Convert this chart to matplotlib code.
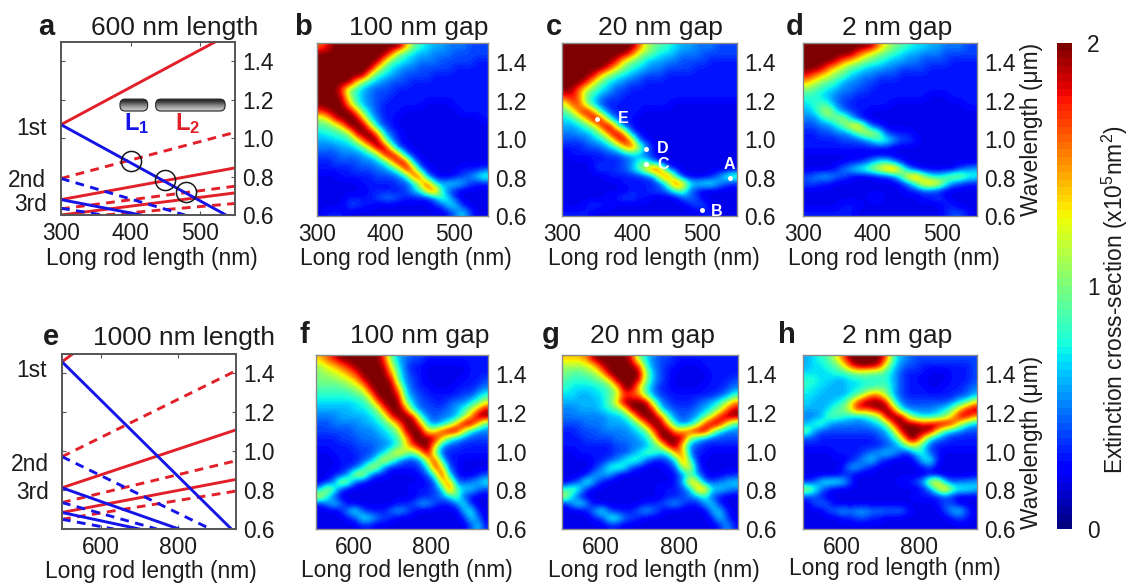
import numpy as np
import matplotlib
matplotlib.use("Agg")
import matplotlib.pyplot as plt
from matplotlib.patches import FancyBboxPatch

plt.rcParams['font.family'] = ['Liberation Sans', 'DejaVu Sans']
plt.rcParams['mathtext.fontset'] = 'custom'
plt.rcParams['mathtext.rm'] = 'Liberation Sans'
plt.rcParams['mathtext.bf'] = 'Liberation Sans:bold'

# extinction maps, tenths of 1e5 nm^2, rows run from 1.5 um down to 0.6 um
map_b = [
    [16,18,20,20,20,20,20,20,20,20,20,20,15,10,8,7,6,6,5,5,5,4,4,4],
    [20,20,20,20,20,20,20,20,20,20,16,10,8,7,6,6,5,5,5,4,4,4,4,4],
    [20,20,20,20,20,20,20,20,20,14,9,8,7,6,5,5,5,4,4,4,4,4,3,3],
    [20,20,20,20,20,20,20,20,13,9,7,6,5,5,4,4,4,4,4,3,3,3,3,3],
    [20,20,20,20,20,20,20,12,8,7,6,5,4,4,4,4,3,3,3,3,3,3,3,3],
    [20,20,20,20,20,14,9,7,6,5,4,4,4,3,3,3,3,3,3,3,3,3,3,3],
    [20,20,20,17,10,8,6,5,4,4,4,3,3,3,3,3,3,3,3,3,3,3,3,3],
    [20,20,20,19,12,8,6,5,4,4,3,3,3,3,3,3,3,3,3,3,3,3,3,3],
    [20,20,20,20,15,9,6,5,4,3,3,3,3,3,3,2,2,2,2,3,3,3,3,3],
    [17,19,20,20,20,16,9,6,4,3,3,3,2,2,2,2,2,2,2,2,3,3,3,3],
    [11,13,18,20,20,20,15,7,5,3,3,2,2,2,2,2,2,2,2,2,2,2,2,3],
    [9,9,11,14,20,20,20,14,6,4,3,2,2,2,2,2,2,2,2,2,2,2,2,2],
    [7,8,8,9,11,19,20,20,15,6,4,3,2,2,2,2,2,2,2,2,2,2,2,2],
    [6,6,7,7,8,11,17,20,20,11,5,3,2,2,2,2,2,2,2,2,2,2,2,2],
    [5,5,5,6,6,7,9,14,20,20,11,4,3,2,2,2,2,2,2,2,2,2,2,2],
    [4,4,4,5,5,5,6,7,10,18,20,15,5,3,2,2,2,2,2,2,2,2,2,2],
    [3,3,4,4,4,4,5,5,6,8,14,20,18,6,3,2,2,2,2,2,2,2,2,2],
    [3,3,3,3,3,4,4,4,5,5,7,10,19,16,5,3,2,2,2,2,3,3,3,4],
    [2,2,2,3,3,3,3,3,4,4,4,5,7,17,17,5,3,2,2,3,4,5,7,9],
    [2,2,2,2,2,2,3,3,3,3,3,4,4,6,13,18,8,6,7,7,6,4,3,3],
    [2,2,2,2,2,2,2,3,3,3,3,3,4,6,8,14,18,8,4,3,2,2,2,2],
    [2,2,2,2,3,3,3,3,4,5,5,4,3,3,3,3,5,9,7,3,2,2,2,2],
    [2,2,2,2,4,4,3,3,2,2,2,2,2,2,2,2,3,4,7,7,3,2,2,2],
    [2,3,3,3,2,2,2,2,2,2,2,2,2,2,2,2,2,2,3,5,7,4,2,2],
]
map_c = [
    [20,20,20,20,20,20,20,20,20,20,17,12,10,9,8,7,6,6,5,5,5,4,4,4],
    [20,20,20,20,20,20,20,20,20,17,12,10,9,7,7,6,5,5,5,4,4,4,4,4],
    [20,20,20,20,20,20,20,18,13,10,9,7,6,6,5,5,4,4,4,4,3,3,3,3],
    [20,20,20,20,20,20,17,13,10,8,7,6,5,5,4,4,4,4,3,3,3,3,3,3],
    [20,20,20,20,18,13,10,8,7,6,5,4,4,4,3,3,3,3,3,3,3,3,3,3],
    [20,20,20,17,12,9,7,6,5,4,4,3,3,3,3,3,3,3,3,3,3,3,3,3],
    [20,19,15,11,9,7,6,4,4,3,3,3,3,3,3,3,3,3,3,3,3,3,3,3],
    [17,18,15,9,7,5,4,4,3,3,3,3,3,3,3,3,3,3,3,3,3,3,3,3],
    [12,17,16,10,6,4,3,3,3,3,3,3,3,3,3,2,2,2,2,2,2,2,2,2],
    [9,12,17,19,14,7,4,3,3,3,3,2,2,2,2,2,2,2,2,2,2,2,2,2],
    [7,8,11,15,20,17,8,4,3,3,2,2,2,2,2,2,2,2,2,2,2,2,2,2],
    [6,6,7,9,12,18,20,11,4,3,2,2,2,2,2,2,2,2,2,2,2,2,2,2],
    [5,5,6,6,8,11,17,20,15,5,3,2,2,2,2,2,2,2,2,2,2,2,2,2],
    [4,4,4,5,6,7,10,16,20,15,5,3,2,2,2,2,2,2,2,2,2,2,2,2],
    [3,3,3,4,4,5,6,8,13,17,12,6,3,2,2,2,2,2,2,2,2,2,2,2],
    [2,3,3,3,3,3,4,4,5,6,6,4,3,2,2,2,2,2,2,2,2,2,2,2],
    [2,2,2,2,3,3,3,3,4,5,8,9,5,3,2,2,2,2,2,2,2,2,2,2],
    [2,2,2,2,3,4,3,4,4,6,9,13,19,16,5,3,2,2,2,2,2,2,2,2],
    [2,2,2,2,2,2,3,3,3,3,3,4,5,14,18,9,3,2,2,2,3,5,8,10],
    [2,2,2,2,2,2,2,2,3,3,3,3,3,4,9,18,15,8,7,8,8,6,4,3],
    [2,2,2,2,2,2,2,2,2,3,3,3,4,4,5,8,10,5,3,2,2,2,2,2],
    [2,2,2,2,2,2,3,3,4,4,3,3,2,2,2,2,4,5,4,2,2,2,2,2],
    [2,2,2,3,4,3,3,2,2,2,2,2,2,2,2,2,2,3,4,4,2,2,2,2],
    [3,3,3,3,2,2,2,2,2,2,2,2,2,2,2,2,2,2,2,3,3,2,2,2],
]
map_d = [
    [20,20,20,20,20,20,20,20,20,19,15,12,10,9,8,7,7,6,6,5,5,5,4,4],
    [20,20,20,20,20,20,20,17,14,12,10,9,8,7,6,6,5,5,5,4,4,4,4,4],
    [20,20,20,20,19,16,14,12,10,9,8,7,6,6,5,5,4,4,4,4,3,3,3,3],
    [20,20,19,16,13,11,9,8,7,6,6,5,5,4,4,4,4,3,3,3,3,3,3,3],
    [18,16,14,12,10,9,7,6,5,5,4,4,4,3,3,3,3,3,3,3,3,3,3,3],
    [14,12,10,9,8,6,5,5,4,4,3,3,3,3,3,3,3,3,3,3,3,3,3,3],
    [10,9,8,7,6,5,5,4,4,3,3,3,3,3,3,3,3,3,3,3,3,3,3,3],
    [8,8,7,6,5,4,4,3,3,3,3,3,3,3,3,3,3,2,2,2,3,3,3,3],
    [7,8,9,8,5,4,3,3,3,3,3,3,2,2,2,2,2,2,2,2,2,2,3,3],
    [6,7,10,12,8,5,4,3,3,2,2,2,2,2,2,2,2,2,2,2,2,2,2,2],
    [5,5,7,9,10,12,7,4,2,2,2,2,2,2,2,2,2,2,2,2,2,2,2,2],
    [4,4,5,5,7,9,13,15,9,4,3,2,2,2,2,2,2,2,2,2,2,2,2,2],
    [3,3,4,4,5,5,6,9,12,12,9,4,3,3,3,2,2,2,2,2,2,2,2,2],
    [3,3,3,3,3,4,4,4,5,7,9,8,6,4,4,3,2,2,2,2,2,2,2,2],
    [3,3,3,3,3,3,3,3,3,3,3,3,2,2,2,2,2,2,2,2,2,2,2,2],
    [2,2,2,2,2,2,2,2,2,2,2,2,2,2,2,2,2,2,2,2,2,2,2,2],
    [2,2,2,2,2,2,3,3,4,6,8,8,5,3,2,2,2,2,2,2,2,2,2,2],
    [2,2,2,2,3,5,6,8,9,11,13,16,17,11,5,3,2,2,2,2,2,4,5,6],
    [4,5,6,6,5,4,3,2,2,2,3,3,5,9,15,16,11,8,7,9,11,11,9,8],
    [4,4,3,3,2,2,2,2,2,2,2,2,2,3,5,9,14,15,14,9,5,4,3,3],
    [2,2,2,2,2,2,2,2,2,2,2,2,2,2,3,3,4,4,3,2,2,2,2,2],
    [2,2,2,2,2,2,2,2,2,3,3,2,2,2,2,2,3,3,4,3,2,2,2,2],
    [2,2,2,2,2,3,3,3,2,2,2,2,2,2,2,2,2,2,2,3,3,2,2,2],
    [3,3,3,3,3,3,3,2,2,2,2,2,2,2,2,2,2,2,2,3,4,4,3,2],
]
map_f = [
    [14,16,18,20,20,20,20,20,20,17,9,6,5,4,4,3,3,3,3,3,3,3,3,3],
    [11,13,14,16,18,20,20,20,20,19,12,7,4,3,3,2,2,2,2,2,2,3,3,3],
    [10,11,12,13,15,17,20,20,20,20,15,8,5,3,3,2,2,2,2,2,2,3,3,3],
    [10,10,10,11,12,14,18,20,20,20,19,9,5,4,3,2,2,2,2,2,3,3,3,4],
    [9,9,9,9,10,11,13,19,20,20,20,14,6,4,3,3,2,2,2,3,3,3,4,5],
    [8,8,8,8,8,9,10,14,20,20,20,18,7,5,4,3,3,3,3,3,4,4,6,8],
    [7,7,7,7,7,7,8,10,16,20,20,20,10,6,4,4,3,3,4,5,5,7,9,12],
    [6,6,6,6,6,7,7,8,10,17,20,20,17,7,5,4,4,4,5,6,8,11,15,19],
    [5,5,5,6,6,6,6,7,8,11,18,20,20,19,8,5,4,5,5,6,10,15,20,20],
    [4,4,5,5,5,5,6,6,7,8,11,16,20,20,16,7,5,6,9,14,20,20,14,8],
    [4,4,4,4,4,5,5,5,6,7,8,11,19,20,20,13,13,18,20,20,12,7,5,5],
    [3,3,3,4,4,4,5,5,5,6,7,9,14,20,20,20,19,14,9,6,5,4,4,4],
    [3,3,3,3,3,4,4,4,5,5,6,8,13,17,20,20,14,6,4,4,3,3,3,3],
    [2,2,3,3,3,3,4,4,5,7,11,14,11,9,14,20,10,4,3,3,3,3,3,3],
    [2,2,2,3,3,3,4,5,9,13,10,6,4,4,5,13,18,7,3,3,2,2,2,2],
    [2,2,2,3,3,4,7,12,11,5,3,3,3,3,4,7,18,14,4,3,2,2,2,2],
    [2,2,3,3,6,12,12,6,3,3,2,2,2,2,3,4,9,19,7,3,2,2,3,4],
    [2,3,5,12,10,4,3,2,2,2,2,2,2,2,2,3,4,14,15,5,4,5,6,8],
    [6,12,9,4,2,2,2,2,2,2,2,2,2,3,3,3,4,6,18,9,7,7,5,4],
    [13,8,4,2,2,2,2,2,2,2,2,2,2,2,3,3,4,5,7,10,4,3,2,2],
    [3,5,7,5,2,2,2,2,2,2,2,3,3,4,6,6,4,3,3,5,8,3,2,2],
    [2,2,2,3,6,8,4,3,3,3,5,6,5,3,2,2,2,2,2,2,6,8,3,2],
    [2,2,2,2,3,4,8,7,5,4,3,2,2,2,2,2,2,2,2,2,3,7,5,2],
    [2,2,2,2,2,2,3,3,2,2,2,2,2,2,2,2,2,2,2,2,2,4,7,3],
]
map_g = [
    [14,14,14,16,20,20,20,20,20,18,10,7,5,4,4,3,3,3,3,3,3,3,3,3],
    [11,11,11,12,14,19,20,20,20,20,17,8,5,4,3,3,2,2,2,3,3,3,3,3],
    [10,9,9,10,11,14,20,20,20,20,20,11,6,4,3,2,2,2,2,2,3,3,3,3],
    [9,8,8,8,9,10,13,20,20,20,19,10,6,4,3,2,2,2,2,2,3,3,3,4],
    [8,7,7,7,7,8,9,13,20,20,13,8,5,3,3,2,2,2,2,3,3,3,4,5],
    [7,7,6,6,7,7,9,11,17,16,16,9,5,4,3,3,3,3,3,3,3,4,5,8],
    [6,6,6,6,6,7,9,14,20,20,20,20,10,5,4,3,3,3,4,5,6,8,11,15],
    [5,5,6,6,6,7,8,9,12,20,20,20,18,7,5,4,4,4,5,6,8,11,16,19],
    [5,5,5,5,5,5,6,6,7,11,19,20,20,17,8,5,4,5,6,9,13,18,20,20],
    [4,4,4,5,5,5,6,6,6,7,10,17,20,20,14,7,5,6,10,17,20,19,13,8],
    [3,3,4,4,4,5,5,5,5,6,7,9,17,20,20,15,15,18,20,20,12,7,5,5],
    [3,3,3,4,4,4,4,5,5,5,6,7,11,20,20,20,19,10,7,5,4,4,4,4],
    [3,3,3,3,3,3,3,4,4,5,5,6,8,11,19,20,13,5,4,3,3,3,3,3],
    [2,2,3,3,3,3,3,4,4,5,7,9,9,7,8,16,15,5,3,3,2,2,2,2],
    [2,2,2,2,3,3,4,5,7,9,8,5,3,3,4,7,17,8,3,2,2,2,2,2],
    [2,2,2,2,3,5,8,9,8,4,3,2,2,2,3,4,12,13,4,2,2,2,2,2],
    [2,2,2,3,6,6,6,3,2,2,2,2,2,2,2,3,5,9,5,3,2,2,3,3],
    [2,3,5,9,5,3,2,2,2,2,2,2,2,2,2,3,6,15,12,4,4,5,6,7],
    [8,10,7,3,2,2,2,2,2,2,2,2,2,3,3,3,4,6,15,15,7,7,6,5],
    [12,6,3,2,2,2,2,2,2,2,2,2,2,2,3,3,4,5,6,8,4,3,2,2],
    [3,6,8,5,2,2,2,2,2,2,2,3,3,4,5,6,4,3,3,6,7,3,2,2],
    [2,2,2,3,6,8,4,3,3,3,5,6,5,3,2,2,2,2,2,2,6,7,3,2],
    [2,2,2,2,3,4,8,8,5,4,3,2,2,2,2,2,2,2,2,2,3,7,4,2],
    [2,2,2,2,2,2,3,3,2,2,2,2,2,2,2,2,2,2,2,2,2,3,6,3],
]
map_h = [
    [6,7,8,9,12,16,20,20,20,20,20,16,8,6,5,4,4,4,4,4,4,4,4,4],
    [6,7,7,8,9,12,17,20,20,20,18,11,7,5,4,4,3,3,3,3,3,3,3,4],
    [7,7,7,7,8,8,9,10,10,9,9,8,6,4,3,3,3,2,2,2,3,3,3,4],
    [8,8,7,7,6,6,7,7,8,8,8,8,6,4,3,3,2,2,2,2,3,3,3,4],
    [8,7,7,6,6,6,7,7,8,8,9,9,6,4,3,3,3,2,2,3,3,3,4,5],
    [7,7,6,6,6,6,7,9,12,16,15,10,6,4,3,3,3,3,3,3,3,4,4,6],
    [7,6,6,6,7,8,12,17,20,20,20,18,8,5,4,4,4,4,4,4,5,7,9,13],
    [6,6,6,7,9,10,13,18,17,18,20,20,16,7,5,5,5,5,6,7,10,14,18,20],
    [5,5,6,9,9,8,7,6,7,9,11,20,20,20,12,8,7,7,8,10,14,19,19,15],
    [6,8,9,6,5,5,5,5,5,6,7,10,18,20,20,20,18,19,20,20,18,12,8,6],
    [10,6,4,4,4,4,4,4,4,4,5,6,11,19,20,20,20,20,13,8,6,5,4,4],
    [4,4,3,3,3,3,3,3,3,3,4,5,7,12,20,20,14,7,5,4,3,3,3,3],
    [3,3,3,3,3,3,3,3,3,3,3,4,5,7,11,12,7,4,3,3,3,3,3,3],
    [2,2,2,2,3,3,3,3,4,5,6,7,6,4,3,7,8,4,3,2,2,2,2,2],
    [2,2,2,2,2,2,3,4,6,7,4,3,2,2,2,3,7,8,3,2,2,2,2,2],
    [2,2,2,2,2,3,6,6,4,3,2,2,2,2,2,2,3,4,2,2,2,2,2,2],
    [2,2,2,2,2,3,3,2,2,2,2,2,2,2,2,2,2,2,2,2,2,2,2,2],
    [3,4,7,8,8,7,4,2,2,2,2,2,2,3,3,4,6,13,14,6,4,5,5,6],
    [12,9,5,3,2,2,2,2,2,2,2,2,2,2,2,2,3,5,11,16,10,8,8,7],
    [4,4,3,2,2,2,2,2,2,2,2,2,2,2,2,3,3,3,3,4,3,2,2,2],
    [2,4,5,4,2,2,2,2,2,2,2,2,2,2,2,2,2,2,3,4,4,2,2,2],
    [2,2,2,4,5,6,5,6,6,5,5,5,5,5,3,2,2,2,2,4,6,7,4,2],
    [2,2,2,2,2,3,3,4,4,3,3,2,2,2,2,2,2,2,2,2,3,4,3,2],
    [2,2,2,2,2,2,2,2,2,2,2,2,2,2,2,2,2,2,2,2,2,2,2,2],
]

# mode lines for the two analytic panels: (x ends, wavelength ends)
a_solid_red = [([300, 550], [1.07, 1.556]), ([300, 550], [0.68, 0.845]), ([300, 550], [0.60, 0.715])]
a_dash_red = [([300, 550], [0.79, 1.03]), ([300, 550], [0.632, 0.75]), ([300, 550], [0.58, 0.66])]
a_solid_blue = [([300, 537], [1.07, 0.60]), ([300, 415], [0.68, 0.60])]
a_dash_blue = [([300, 478], [0.79, 0.60]), ([300, 360], [0.635, 0.60])]
a_circle_x = [400, 450, 480]
a_circle_y = [0.88, 0.78, 0.72]

e_solid_red = [([500, 950], [1.46, 2.12]), ([500, 950], [0.812, 1.11]), ([500, 950], [0.685, 0.855])]
e_dash_red = [([500, 950], [0.972, 1.414]), ([500, 950], [0.736, 0.951]), ([500, 950], [0.65, 0.795])]
e_solid_blue = [([500, 938], [1.46, 0.60]), ([500, 802], [0.812, 0.60]), ([500, 700], [0.685, 0.60])]
e_dash_blue = [([500, 884], [0.972, 0.60]), ([500, 745], [0.736, 0.60]), ([500, 634], [0.65, 0.60])]

c_point_x = [540, 500, 420, 420, 350]
c_point_y = [0.80, 0.63, 0.87, 0.95, 1.107]
c_point_names = ['A', 'B', 'C', 'D', 'E']

row1_ticks = [300, 400, 500]
row2_ticks = [600, 800]
wave_ticks = [0.6, 0.8, 1.0, 1.2, 1.4]

W, H = 1130, 584
RED = '#e2202a'
BLUE = '#1414e6'
TXT = '#1c1c1c'
FS = 16.4

fig = plt.figure(figsize=(W / 100, H / 100), dpi=100)


def px_axes(x0, x1, y0, y1):
    return fig.add_axes([x0 / W, 1 - y1 / H, (x1 - x0) / W, (y1 - y0) / H])


def label(x, y, s, **kw):
    kw.setdefault('color', TXT)
    kw.setdefault('fontsize', FS)
    kw.setdefault('ha', 'center')
    fig.text(x / W, 1 - y / H, s, va='baseline', **kw)


def style_axes(ax, xlim, xticks, frame='#8a8a8a', lw=1.0):
    ax.set_xlim(xlim)
    ax.set_ylim(0.6, 1.5)
    ax.set_xticks(xticks)
    ax.set_yticks(wave_ticks)
    ax.set_yticklabels(['%.1f' % t for t in wave_ticks])
    ax.yaxis.tick_right()
    ax.tick_params(labelsize=FS, colors=TXT, length=0, pad=5)
    for s in ax.spines.values():
        s.set_color(frame)
        s.set_linewidth(lw)


def draw_map(ax, grid, xlim, xticks):
    im = ax.imshow(np.array(grid) / 10, extent=[xlim[0], xlim[1], 0.6, 1.5], aspect='auto',
                   cmap=plt.get_cmap('jet', 64), vmin=0, vmax=2,
                   interpolation='bicubic', interpolation_stage='data')
    style_axes(ax, xlim, xticks)
    return im


def draw_modes(ax, solid_red, dash_red, solid_blue, dash_blue, xlim, xticks):
    for x, y in solid_red:
        ax.plot(x, y, color=RED, lw=2.1)
    for x, y in dash_red:
        ax.plot(x, y, color=RED, lw=2.1, ls=(0, (3, 2.2)))
    for x, y in solid_blue:
        ax.plot(x, y, color=BLUE, lw=2.1)
    for x, y in dash_blue:
        ax.plot(x, y, color=BLUE, lw=2.1, ls=(0, (3, 2.2)))
    style_axes(ax, xlim, xticks, frame='#555555', lw=1.4)
    ax.tick_params(length=3, direction='in', top=True, left=True, right=True, bottom=True, color='#555555')


# top row
ax_a = px_axes(61, 235, 42, 215)
draw_modes(ax_a, a_solid_red, a_dash_red, a_solid_blue, a_dash_blue, (300, 550), row1_ticks)
ax_a.plot(a_circle_x, a_circle_y, 'o', ms=14.5, mfc='none', mec='#1a1a1a', mew=1.1)

# the two rods
grad = np.array([[0.15], [0.3], [0.5], [0.65], [0.78]])
for rx0, rx1 in [(0.339, 0.498), (0.544, 0.943)]:
    box = FancyBboxPatch((rx0, 0.601), rx1 - rx0, 0.069, boxstyle='round,pad=0,rounding_size=0.03',
                         transform=ax_a.transAxes, fc='none', ec='#222222', lw=0.8, zorder=4)
    ax_a.add_patch(box)
    x0 = 300 + 250 * rx0
    x1 = 300 + 250 * rx1
    y0 = 0.6 + 0.9 * 0.601
    y1 = 0.6 + 0.9 * 0.67
    img = ax_a.imshow(grad, extent=[x0, x1, y0, y1], aspect='auto', cmap='gray', vmin=0, vmax=1,
                      interpolation='bicubic', zorder=3)
    img.set_clip_path(box)
ax_a.set_xlim(300, 550)
ax_a.set_ylim(0.6, 1.5)
ax_a.text(409, 1.042, r'$\mathbf{L_1}$', color=BLUE, fontsize=17, ha='center', va='baseline')
ax_a.text(482, 1.042, r'$\mathbf{L_2}$', color=RED, fontsize=17, ha='center', va='baseline')

ax_b = px_axes(317, 488, 43, 216)
draw_map(ax_b, map_b, (300, 550), row1_ticks)
ax_c = px_axes(562, 737, 43, 216)
draw_map(ax_c, map_c, (300, 550), row1_ticks)
ax_c.plot(c_point_x, c_point_y, 'o', color='white', ms=3.6, mew=0)
for px, py, name, dx, dy in zip(c_point_x, c_point_y, c_point_names,
                                [-1, 21, 24, 24, 37], [0.03, -0.004, 0.0, 0.0, 0.0]):
    ax_c.text(px + dx, py + dy, name, color='white', fontsize=11.5, fontweight='bold',
              ha='center', va='bottom' if name == 'A' else 'center')
ax_d = px_axes(803, 977, 43, 216)
im = draw_map(ax_d, map_d, (300, 550), row1_ticks)

# bottom row
ax_e = px_axes(62, 236, 354, 529)
draw_modes(ax_e, e_solid_red, e_dash_red, e_solid_blue, e_dash_blue, (500, 950), row2_ticks)
ax_f = px_axes(316, 488, 355, 529)
draw_map(ax_f, map_f, (500, 950), row2_ticks)
ax_g = px_axes(562, 738, 355, 529)
draw_map(ax_g, map_g, (500, 950), row2_ticks)
ax_h = px_axes(803, 977, 355, 529)
draw_map(ax_h, map_h, (500, 950), row2_ticks)

for ax in (ax_d, ax_h):
    ax.yaxis.set_label_position('right')
    ax.set_ylabel('Wavelength (\u03bcm)', fontsize=FS, color=TXT, rotation=90, labelpad=3, va='top')

# titles, panel letters, x labels
for x, y, s in [(175, 35, '600 nm length'), (419, 35, '100 nm gap'), (660, 35, '20 nm gap'),
                (897, 35, '2 nm gap'), (184, 345, '1000 nm length'), (420, 343, '100 nm gap'),
                (652, 343, '20 nm gap'), (897, 343, '2 nm gap')]:
    label(x, y, s, fontsize=19)
for x, y, s in [(38, 35, 'a'), (294, 35, 'b'), (546, 35, 'c'), (786, 35, 'd'),
                (43, 345, 'e'), (300, 343, 'f'), (542, 343, 'g'), (778, 343, 'h')]:
    label(x, y, s, fontsize=21, fontweight='bold', ha='left')
for x, y in [(152, 265), (406, 265), (654, 265), (894, 265),
             (151, 578), (407, 577), (654, 577), (895, 575)]:
    label(x, y, 'Long rod length (nm)')

# mode order labels
for x, y, s in [(32, 135, '1st'), (27, 187, '2nd'), (31, 211, '3rd'),
                (32, 377, '1st'), (30, 471, '2nd'), (33, 499, '3rd')]:
    label(x, y, s)

cax = px_axes(1057, 1072, 43, 529)
cb = fig.colorbar(im, cax=cax, ticks=[0, 1, 2])
cb.outline.set_visible(False)
cb.ax.tick_params(labelsize=FS, length=0, pad=11, colors=TXT)
fig.text(1115 / W, 1 - 300 / H, r'Extinction cross-section (x10$^5$nm$^2$)', fontsize=FS, color=TXT,
         rotation=90, ha='center', va='center')

fig.savefig('out.png', dpi=100)
